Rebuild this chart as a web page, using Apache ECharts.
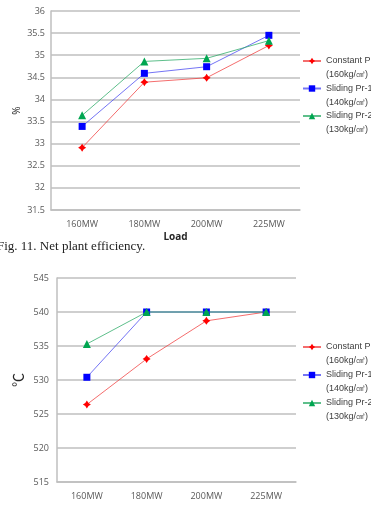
<!DOCTYPE html>
<html>
<head>
<meta charset="utf-8">
<script src="https://cdn.jsdelivr.net/npm/echarts@6/dist/echarts.min.js"></script>
<style>
  html, body { margin: 0; padding: 0; background: #fff; }
  #main { width: 371px; height: 505px; }
</style>
</head>
<body>
<div id="main"></div>
<script>
// shared categories + legend labels
var loads = ['160MW', '180MW', '200MW', '225MW'];
var seriesNames = ['Constant Pr', 'Sliding Pr-1', 'Sliding Pr-2'];
var pressures = ['(160kg/㎠)', '(140kg/㎠)', '(130kg/㎠)'];

// chart 1: net plant efficiency (%)
var effConstant = [32.91, 34.39, 34.49, 35.22];
var effSliding1 = [33.39, 34.59, 34.74, 35.45];
var effSliding2 = [33.64, 34.86, 34.93, 35.33];

// chart 2: temperature (℃)
var tempConstant = [526.4, 533.1, 538.7, 540];
var tempSliding1 = [530.4, 540, 540, 540];
var tempSliding2 = [535.3, 540, 540, 540];

var colors = ['#ff0000', '#0000ff', '#00a651'];
var lineColors = ['rgba(240,60,60,0.75)', 'rgba(70,70,240,0.75)', 'rgba(40,170,100,0.75)'];
var symbols = ['path://M0,-5 L2,-2 L5,0 L2,2 L0,5 L-2,2 L-5,0 L-2,-2 Z', 'rect', 'triangle'];
var symbolSizes = [8, 7, 8];

var gray = '#595959';
var gridColor = '#bfbfbf';

// blank first line so the icon lines up with the series name
function legendText(name) {
    return '\n' + name + '\n' + pressures[seriesNames.indexOf(name)];
}

function makeSeries(idx, data, axisIdx) {
    return {
        name: seriesNames[idx],
        type: 'line',
        xAxisIndex: axisIdx,
        yAxisIndex: axisIdx,
        data: data,
        symbol: symbols[idx],
        symbolSize: symbolSizes[idx],
        itemStyle: { color: colors[idx] },
        lineStyle: { color: lineColors[idx], width: 1 },
        emphasis: { disabled: true },
        z: 3 + idx
    };
}

function makeLegend(top, gap) {
    return {
        orient: 'vertical',
        left: 302,
        top: top,
        padding: 0,
        itemWidth: 18,
        itemHeight: 8,
        itemGap: gap,
        data: seriesNames,
        formatter: legendText,
        textStyle: {
            fontSize: 9,
            lineHeight: 14,
            color: '#404040',
            fontFamily: 'Liberation Sans'
        }
    };
}

var catAxisBase = {
    type: 'category',
    boundaryGap: true,
    axisLine: { lineStyle: { color: gridColor, width: 1.5 } },
    axisTick: { show: false },
    axisLabel: { color: gray, fontSize: 9, fontFamily: 'Open Sans', margin: 10 }
};

var myChart = echarts.init(document.getElementById('main'));
var option = {
    backgroundColor: '#fff',
    animation: false,
    grid: [
        { left: 51, top: 11, width: 249, height: 199 },
        { left: 57, top: 278, width: 239, height: 204 }
    ],
    legend: [makeLegend(40, -14.5), makeLegend(326, -14)],
    xAxis: [
        Object.assign({}, catAxisBase, {
            gridIndex: 0,
            data: loads,
            name: 'Load',
            nameLocation: 'middle',
            nameGap: 22,
            nameTextStyle: { color: '#262626', fontSize: 10, fontWeight: 'bold', fontFamily: 'Open Sans' }
        }),
        Object.assign({}, catAxisBase, {
            gridIndex: 1,
            data: loads,
            axisLabel: { color: gray, fontSize: 9, fontFamily: 'Open Sans', margin: 10 }
        })
    ],
    yAxis: [
        {
            type: 'value',
            gridIndex: 0,
            min: 31.5,
            max: 36,
            interval: 0.5,
            name: '%',
            nameLocation: 'middle',
            nameRotate: 90,
            nameGap: 29,
            nameMoveOverlap: false,
            nameTextStyle: { color: '#262626', fontSize: 10, fontFamily: 'Open Sans' },
            axisLine: { show: true, lineStyle: { color: gridColor, width: 1.5 } },
            axisTick: { show: false },
            axisLabel: { color: gray, fontSize: 9, fontFamily: 'Open Sans', margin: 6 },
            splitLine: { lineStyle: { color: gridColor, width: 1.5 } }
        },
        {
            type: 'value',
            gridIndex: 1,
            min: 515,
            max: 545,
            interval: 5,
            name: '℃',
            nameLocation: 'middle',
            nameRotate: 90,
            nameGap: 32,
            nameMoveOverlap: false,
            nameTextStyle: { color: '#262626', fontSize: 14, fontFamily: 'Noto Sans CJK KR' },
            axisLine: { show: true, lineStyle: { color: gridColor, width: 1.5 } },
            axisTick: { show: false },
            axisLabel: { color: gray, fontSize: 9, fontFamily: 'Open Sans', margin: 8 },
            splitLine: { lineStyle: { color: gridColor, width: 1.5 } }
        }
    ],
    graphic: [
        {
            type: 'text',
            left: -3,
            top: 240,
            style: {
                text: 'Fig. 11. Net plant efficiency.',
                font: '13px "Liberation Serif", "DejaVu Serif", serif',
                fill: '#222'
            }
        }
    ],
    series: [
        makeSeries(0, effConstant, 0),
        makeSeries(1, effSliding1, 0),
        makeSeries(2, effSliding2, 0),
        makeSeries(0, tempConstant, 1),
        makeSeries(1, tempSliding1, 1),
        makeSeries(2, tempSliding2, 1)
    ]
};
myChart.setOption(option);
</script>
</body>
</html>
